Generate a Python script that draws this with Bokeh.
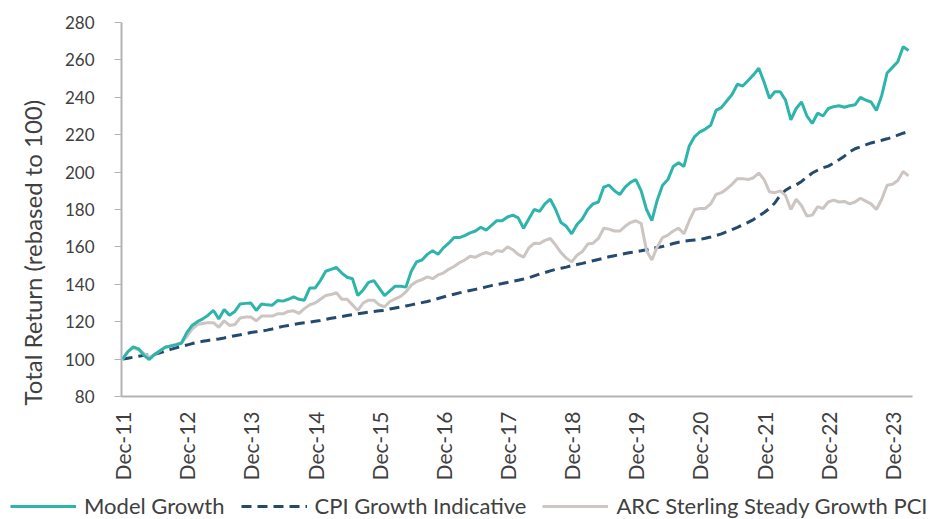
import math
from bokeh.plotting import figure
from bokeh.layouts import column
from bokeh.models import (ColumnDataSource, FixedTicker, Legend, LegendItem, Title, Range1d)
from bokeh.embed import file_html
from bokeh.resources import INLINE

# ---- data (monthly, Dec-11 .. Mar-24), rebased to 100 ----
tick_labels = ["Dec-11", "Dec-12", "Dec-13", "Dec-14", "Dec-15", "Dec-16", "Dec-17",
               "Dec-18", "Dec-19", "Dec-20", "Dec-21", "Dec-22", "Dec-23"]

model_growth = [
    100, 104, 106.5, 105.5, 102, 99.8, 102.5, 104.5, 106.3, 107, 107.6, 108.5,
    114, 118, 120, 121.5, 123.5, 126, 121.5, 126.5, 123.5, 125.5, 129.5, 129.8,
    130, 126, 129.5, 129, 128.8, 131.3, 131, 132, 133.3, 132, 131.5, 138,
    138, 142, 147, 148, 149, 146, 143.8, 143, 134, 137, 141, 142,
    138, 134, 136.5, 139, 139, 138.5, 147, 152, 153, 156, 158, 156,
    159.5, 162, 165, 165, 166, 167.5, 168.5, 170.5, 169, 171.5, 174, 174,
    176, 177, 175.5, 170, 175, 180, 179, 183, 185.5, 180, 173, 171,
    167, 172, 175, 180, 183, 184, 192, 193, 190, 188, 192, 194.5,
    196, 190, 180, 174, 185, 193, 196, 203, 205, 203, 214, 219,
    221.5, 223, 225, 233, 234.5, 238, 241.5, 247, 246, 249, 252, 255.5,
    248, 239.5, 243, 243, 238.5, 228, 234, 237.5, 230, 226, 231.5, 230,
    234, 235, 235.5, 234.7, 235.5, 236, 240, 238.5, 237.5, 233, 241, 253,
    256, 259, 267, 265,
]

cpi_growth = [
    100, 100.5, 101, 101.5, 102, 102.2, 102.5, 103.3, 104.3, 105.2, 106, 106.8,
    107.5, 108.3, 109, 109.5, 110, 110.4, 110.8, 111.3, 111.9, 112.5, 113, 113.6,
    114.2, 114.6, 115, 115.5, 116.1, 116.8, 117.5, 118, 118.5, 119, 119.4, 119.7,
    120.2, 120.6, 121.2, 121.8, 122.3, 122.8, 123.3, 123.7, 124.2, 124.7, 125.1, 125.5,
    125.8, 126.1, 126.8, 127.3, 127.8, 128.4, 129, 129.6, 130.2, 130.8, 131.6, 132.4,
    133.2, 134, 134.7, 135.4, 136.1, 136.7, 137.3, 137.9, 138.6, 139.3, 139.9, 140.4,
    141, 141.6, 142.2, 142.8, 143.5, 144.5, 145.5, 146.3, 147.2, 148, 148.6, 149.2,
    150, 150.6, 151.2, 151.9, 152.6, 153.3, 154, 154.7, 155.3, 155.9, 156.5, 157,
    157.4, 157.9, 158.5, 159.2, 159.7, 160.2, 161, 161.8, 162.5, 163, 163.4, 163.7,
    164, 164.6, 165.3, 166.1, 167, 168.1, 169.3, 170.5, 171.8, 173.1, 174.6, 176.5,
    178.4, 180.6, 183.5, 187.5, 190.3, 192, 193.2, 195, 197.3, 199.5, 201, 202.3,
    203.2, 204.8, 206.6, 208.5, 210.8, 212.5, 213.5, 214.6, 215.6, 216.3, 217, 217.8,
    218.7, 219.8, 220.8, 221.7,
]

arc_steady_growth = [
    100, 104, 106, 105, 103, 101, 102.5, 104.5, 106.5, 107, 108, 108.8,
    112, 116, 118.5, 119, 119.5, 119.5, 117, 120.5, 118, 118.5, 122, 122.5,
    122.5, 120.5, 123, 123, 123, 124.2, 124.2, 125.5, 125.8, 124.5, 127, 129,
    130, 132, 134, 134.5, 135.5, 132, 132, 129, 126, 130, 131.5, 131.5,
    129, 128, 130.8, 132.2, 133.5, 136, 139.5, 141.5, 142.5, 144, 143, 145,
    146, 148, 149.5, 151.5, 153, 155, 154.5, 156, 157, 156, 158, 157.5,
    160, 158.5, 156, 154.5, 159.5, 162, 161.8, 163.5, 164.5, 161, 157, 154,
    152, 155.5, 157.5, 161.5, 162, 164.5, 170, 169.5, 168.5, 168.5, 171, 173,
    174, 172.5, 158, 153, 160, 165, 166.3, 168.5, 170, 167, 174, 180,
    180.5, 180.6, 183, 188, 189, 191, 193.5, 196.5, 196.5, 196, 197, 199.5,
    196, 189.5, 189, 190, 187.5, 180, 185.5, 182, 176.5, 177, 181.5, 180.5,
    184, 185, 184, 184.3, 183, 184, 186, 184.5, 183, 180, 185.5, 193,
    193.5, 195.5, 200.3, 198,
]

series_names = ["Model Growth", "CPI Growth Indicative", "ARC Sterling Steady Growth PCI"]

months = list(range(len(model_growth)))
tick_positions = [12 * i for i in range(len(tick_labels))]

FONT = "Lato"
TEXT = "#404040"
AXIS = "#B3B3B3"
C_MG, C_CPI, C_ARC = "#2EB5AB", "#244A6E", "#CCC5C1"
DASH = "10 6"

src = ColumnDataSource(dict(m=months, mg=model_growth, cpi=cpi_growth, arc=arc_steady_growth))

p = figure(width=940, height=490, output_backend="svg", toolbar_location=None,
           x_range=Range1d(-0.2, 147.75), y_range=Range1d(80, 280),
           min_border_left=115, min_border_right=28, min_border_top=22, min_border_bottom=94)
p.frame_align = False
p.outline_line_color = None
p.grid.grid_line_color = None

r_cpi = p.line("m", "cpi", source=src, line_color=C_CPI, line_width=3, line_dash=DASH)
r_arc = p.line("m", "arc", source=src, line_color=C_ARC, line_width=3)
r_mg = p.line("m", "mg", source=src, line_color=C_MG, line_width=3)

# x axis
xa = p.xaxis[0]
xa.ticker = FixedTicker(ticks=tick_positions)
xa.major_label_overrides = {t: l for t, l in zip(tick_positions, tick_labels)}
xa.major_label_orientation = math.pi / 2
xa.major_tick_line_color = None
xa.minor_tick_line_color = None
xa.axis_line_color = AXIS
xa.axis_line_width = 2
xa.major_label_standoff = 9
xa.major_label_text_font = FONT
xa.major_label_text_font_size = "21px"
xa.major_label_text_color = TEXT

# y axis
ya = p.yaxis[0]
ya.ticker = FixedTicker(ticks=list(range(80, 281, 20)))
ya.minor_tick_line_color = None
ya.axis_line_color = AXIS
ya.axis_line_width = 2
ya.major_tick_line_color = AXIS
ya.major_tick_line_width = 1
ya.major_tick_out = 7
ya.major_tick_in = 0
ya.major_label_standoff = 20
ya.major_label_text_font = FONT
ya.major_label_text_font_size = "17px"
ya.major_label_text_color = TEXT

ytitle = Title(text="Total Return (rebased to 100)", align="left", offset=-9,
               text_font=FONT, text_font_size="24px", text_font_style="normal",
               text_color=TEXT, standoff=30)
p.add_layout(ytitle, "left")

# legend strip (separate figure; its sample renderers hold no visible data)
pl = figure(width=940, height=29, output_backend="svg", toolbar_location=None,
            x_range=Range1d(0, 1), y_range=Range1d(0, 1),
            min_border=0, x_axis_type=None, y_axis_type=None)
pl.frame_align = False
pl.outline_line_color = None
pl.grid.grid_line_color = None
nan = float("nan")
l_mg = pl.line(x=[nan], y=[nan], line_color=C_MG, line_width=3)
l_cpi = pl.line(x=[nan], y=[nan], line_color=C_CPI, line_width=3, line_dash=DASH)
l_arc = pl.line(x=[nan], y=[nan], line_color=C_ARC, line_width=3)

legend = Legend(items=[
    LegendItem(label=series_names[0], renderers=[l_mg]),
    LegendItem(label=series_names[1], renderers=[l_cpi]),
    LegendItem(label=series_names[2], renderers=[l_arc]),
], orientation="horizontal", location=(10, 0))
legend.label_text_font = FONT
legend.label_text_font_size = "22px"
legend.label_text_color = TEXT
legend.glyph_width = 66
legend.glyph_height = 20
legend.label_standoff = 8
legend.spacing = 16
legend.padding = 0
legend.margin = 0
legend.border_line_color = None
legend.background_fill_alpha = 0
pl.add_layout(legend, "center")

layout = column(p, pl, spacing=0)
open("out.html", "w").write(file_html(layout, INLINE))
